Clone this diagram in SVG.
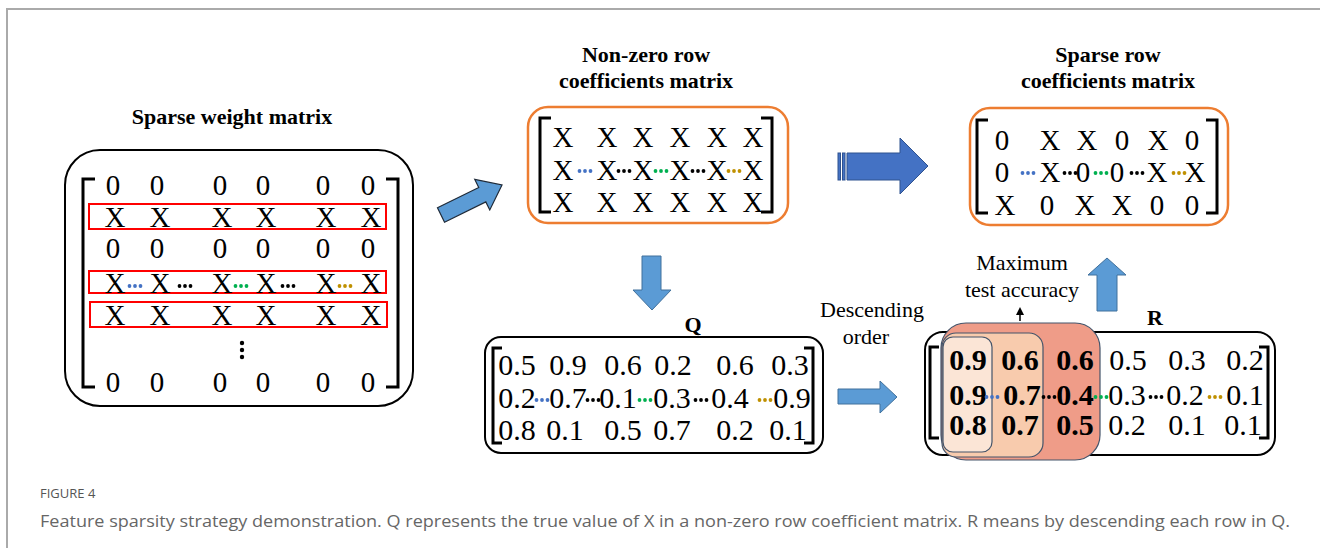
<svg xmlns="http://www.w3.org/2000/svg" width="1320" height="548" viewBox="0 0 1320 548">
  <style>
    .title { font-family: "Liberation Serif", "Times New Roman", serif; font-weight: bold; font-size: 22px; fill: #000; text-anchor: middle; }
    .lbl { font-family: "Liberation Serif", "Times New Roman", serif; font-size: 22px; fill: #000; text-anchor: middle; }
    .m { font-family: "Liberation Serif", "Times New Roman", serif; font-size: 29px; fill: #000; text-anchor: middle; }
    .d { font-family: "Liberation Serif", "Times New Roman", serif; font-size: 30px; fill: #000; text-anchor: middle; }
    .b { font-weight: bold; }
    .box { fill: #fff; stroke: #000; stroke-width: 2; }
    .obox { fill: #fff; stroke: #ed7d31; stroke-width: 2.5; }
    .brk { fill: none; stroke: #000; stroke-width: 3; }
    .red { fill: none; stroke: #ff0000; stroke-width: 2; }
    .arrow { fill: #5b9bd5; stroke: #41719c; stroke-width: 1; }
    .arrow-dark { fill: #5b9bd5; stroke: #1f2a38; stroke-width: 1.2; }
    .arrow2 { fill: #4472c4; stroke: #2f528f; stroke-width: 1; }
    .cap { font-family: "Open Sans", "Liberation Sans", sans-serif; fill: #666; }
    .caphead { font-family: "Open Sans", "Liberation Sans", sans-serif; fill: #555; }
    .blue { fill: #4472c4; } .blk { fill: #000; } .grn { fill: #00b050; } .gld { fill: #bf9000; }
  </style>
  <defs>
    <!-- three-dot ellipsis centred on the origin -->
    <g id="dots"><circle cx="-5.5" cy="0" r="1.9"/><circle cx="0" cy="0" r="1.9"/><circle cx="5.5" cy="0" r="1.9"/></g>
    <marker id="tip" markerWidth="8" markerHeight="8" refX="4" refY="4" orient="auto" markerUnits="userSpaceOnUse">
      <path d="M0,0 L8,4 L0,8 Z" fill="#000"/>
    </marker>
  </defs>

  <rect width="1320" height="548" fill="#fff"/>
  <!-- page frame -->
  <path d="M7,548 V9 H1320" fill="none" stroke="#aaa" stroke-width="2"/>

  <!-- sparse weight matrix -->
  <g id="sparse-weight">
    <text class="title" x="232" y="124">Sparse weight matrix</text>
    <rect class="box" x="65" y="150" width="348" height="256" rx="35"/>
    <path class="brk" d="M95,179 H83 V387 H95"/>
    <path class="brk" d="M386,179 H398 V387 H386"/>
    <rect class="red" x="89" y="204" width="297" height="25"/>
    <rect class="red" x="89" y="271" width="297" height="22"/>
    <rect class="red" x="90" y="302" width="297" height="25"/>
    <g class="m">
      <text x="113" y="195">0</text><text x="157" y="195">0</text><text x="220" y="195">0</text><text x="263" y="195">0</text><text x="323" y="195">0</text><text x="368" y="195">0</text>
      <text x="115" y="227">X</text><text x="160" y="227">X</text><text x="222" y="227">X</text><text x="266" y="227">X</text><text x="326" y="227">X</text><text x="371" y="227">X</text>
      <text x="113" y="258">0</text><text x="157" y="258">0</text><text x="220" y="258">0</text><text x="263" y="258">0</text><text x="323" y="258">0</text><text x="368" y="258">0</text>
      <text x="115" y="293">X</text><text x="160" y="293">X</text><text x="222" y="293">X</text><text x="266" y="293">X</text><text x="326" y="293">X</text><text x="371" y="293">X</text>
      <text x="115" y="325">X</text><text x="160" y="325">X</text><text x="222" y="325">X</text><text x="266" y="325">X</text><text x="326" y="325">X</text><text x="371" y="325">X</text>
      <text x="113" y="392">0</text><text x="157" y="392">0</text><text x="220" y="392">0</text><text x="263" y="392">0</text><text x="323" y="392">0</text><text x="368" y="392">0</text>
    </g>
    <use href="#dots" x="135" y="286" class="blue"/>
    <use href="#dots" x="185" y="286" class="blk"/>
    <use href="#dots" x="241" y="286" class="grn"/>
    <use href="#dots" x="288" y="286" class="blk"/>
    <use href="#dots" x="345" y="286" class="gld"/>
    <g class="blk"><circle cx="242" cy="343" r="2.2"/><circle cx="242" cy="350" r="2.2"/><circle cx="242" cy="357" r="2.2"/></g>
  </g>

  <!-- non-zero row coefficients matrix -->
  <g id="nonzero">
    <text class="title" x="646" y="62">Non-zero row</text>
    <text class="title" x="646" y="88">coefficients matrix</text>
    <rect class="obox" x="528" y="107" width="260" height="116" rx="20"/>
    <path class="brk" d="M551,118 H540 V212 H551"/>
    <path class="brk" d="M761,118 H772 V212 H761"/>
    <g class="m">
      <text x="563" y="147">X</text><text x="607" y="147">X</text><text x="643" y="147">X</text><text x="680" y="147">X</text><text x="717" y="147">X</text><text x="753" y="147">X</text>
      <text x="563" y="180">X</text><text x="607" y="180">X</text><text x="643" y="180">X</text><text x="680" y="180">X</text><text x="717" y="180">X</text><text x="753" y="180">X</text>
      <text x="563" y="212">X</text><text x="607" y="212">X</text><text x="643" y="212">X</text><text x="680" y="212">X</text><text x="717" y="212">X</text><text x="753" y="212">X</text>
    </g>
    <use href="#dots" x="585" y="171" class="blue"/>
    <use href="#dots" x="624" y="171" class="blk"/>
    <use href="#dots" x="661" y="171" class="grn"/>
    <use href="#dots" x="698" y="171" class="blk"/>
    <use href="#dots" x="734" y="171" class="gld"/>
  </g>

  <!-- sparse row coefficients matrix -->
  <g id="sparse-row">
    <text class="title" x="1108" y="62">Sparse row</text>
    <text class="title" x="1108" y="88">coefficients matrix</text>
    <rect class="obox" x="970" y="108" width="258" height="117" rx="20"/>
    <path class="brk" d="M988,120 H977 V213 H988"/>
    <path class="brk" d="M1206,120 H1217 V213 H1206"/>
    <g class="m">
      <text x="1002" y="150">0</text><text x="1050" y="150">X</text><text x="1087" y="150">X</text><text x="1122" y="150">0</text><text x="1158" y="150">X</text><text x="1192" y="150">0</text>
      <text x="1002" y="182">0</text><text x="1050" y="182">X</text><text x="1083" y="182">0</text><text x="1117" y="182">0</text><text x="1157" y="182">X</text><text x="1195" y="182">X</text>
      <text x="1005" y="215">X</text><text x="1047" y="215">0</text><text x="1085" y="215">X</text><text x="1122" y="215">X</text><text x="1157" y="215">0</text><text x="1192" y="215">0</text>
    </g>
    <use href="#dots" x="1028" y="173" class="blue"/>
    <use href="#dots" x="1070" y="173" class="blk"/>
    <use href="#dots" x="1101" y="173" class="grn"/>
    <use href="#dots" x="1137" y="173" class="blk"/>
    <use href="#dots" x="1179" y="173" class="gld"/>
  </g>

  <!-- Q matrix -->
  <g id="q-matrix">
    <text class="title" x="693" y="332">Q</text>
    <rect class="box" x="485" y="337" width="338" height="116" rx="16"/>
    <path class="brk" d="M502,348 H493 V443 H502"/>
    <path class="brk" d="M804,348 H813 V443 H804"/>
    <g class="d">
      <text x="517" y="375">0.5</text><text x="568" y="375">0.9</text><text x="623" y="375">0.6</text><text x="673" y="375">0.2</text><text x="735" y="375">0.6</text><text x="790" y="375">0.3</text>
      <text x="517" y="408">0.2</text><text x="568" y="408">0.7</text><text x="618" y="408">0.1</text><text x="672" y="408">0.3</text><text x="730" y="408">0.4</text><text x="792" y="408">0.9</text>
      <text x="517" y="440">0.8</text><text x="565" y="440">0.1</text><text x="623" y="440">0.5</text><text x="672" y="440">0.7</text><text x="735" y="440">0.2</text><text x="788" y="440">0.1</text>
    </g>
    <use href="#dots" x="542" y="400" class="blue"/>
    <use href="#dots" x="593" y="400" class="blk"/>
    <use href="#dots" x="645" y="400" class="grn"/>
    <use href="#dots" x="701" y="400" class="blk"/>
    <use href="#dots" x="765" y="400" class="gld"/>
  </g>

  <!-- R matrix with selected columns -->
  <g id="r-matrix">
    <text class="title" x="1155" y="325">R</text>
    <rect class="box" x="925" y="332" width="350" height="123" rx="18"/>
    <rect x="941" y="323" width="159" height="137" rx="25" fill="#ef9c88" stroke="#44546a" stroke-width="1.2"/>
    <rect x="942" y="333" width="101" height="124" rx="14" fill="#f8cbad" stroke="#44546a" stroke-width="1.2"/>
    <rect x="943" y="337" width="49" height="115" rx="10" fill="#fbe5d6" stroke="#44546a" stroke-width="1.2"/>
    <path class="brk" d="M939,347 H930 V438 H939"/>
    <path class="brk" d="M1259,347 H1268 V438 H1259"/>
    <g class="d">
      <text class="b" x="968" y="370">0.9</text><text class="b" x="1020" y="370">0.6</text><text class="b" x="1075" y="370">0.6</text><text x="1128" y="370">0.5</text><text x="1187" y="370">0.3</text><text x="1245" y="370">0.2</text>
      <text class="b" x="968" y="405">0.9</text><text class="b" x="1022" y="405">0.7</text><text class="b" x="1075" y="405">0.4</text><text x="1127" y="405">0.3</text><text x="1185" y="405">0.2</text><text x="1245" y="405">0.1</text>
      <text class="b" x="968" y="435">0.8</text><text class="b" x="1020" y="435">0.7</text><text class="b" x="1075" y="435">0.5</text><text x="1127" y="435">0.2</text><text x="1187" y="435">0.1</text><text x="1243" y="435">0.1</text>
    </g>
    <use href="#dots" x="992" y="397" class="blue"/>
    <use href="#dots" x="1049" y="397" class="blk"/>
    <use href="#dots" x="1101" y="397" class="grn"/>
    <use href="#dots" x="1156" y="397" class="blk"/>
    <use href="#dots" x="1215" y="397" class="gld"/>
  </g>

  <!-- annotations -->
  <g id="descending-label">
    <text class="lbl" x="872" y="317">Descending</text>
    <text class="lbl" x="866" y="344">order</text>
  </g>
  <g id="max-label">
    <text class="lbl" x="1022" y="270">Maximum</text>
    <text class="lbl" x="1022" y="297">test accuracy</text>
  </g>

  <!-- connectors -->
  <g id="connectors">
    <path class="arrow-dark" d="M0,-8 L46,-8 L46,-17 L68,0 L46,17 L46,8 L0,8 Z" transform="translate(441,215) rotate(-26.2)"/>
    <g id="striped-arrow">
      <rect class="arrow2" x="838" y="153" width="2.5" height="27"/>
      <rect class="arrow2" x="842.5" y="153" width="2.5" height="27"/>
      <path class="arrow2" d="M847,153 H900 V138 L928,166 L900,194 V180 H847 Z"/>
    </g>
    <path class="arrow" d="M642,256 H661 V290 H671 L652,310 L633,290 H642 Z"/>
    <path class="arrow" d="M838,389 H880 V381 L897,397 L880,413 V404 H838 Z"/>
    <path class="arrow" d="M1097,311 V275 H1088 L1107,258 L1126,275 H1117 V311 Z"/>
    <line x1="1020" y1="321" x2="1020" y2="311" stroke="#000" stroke-width="1.5" marker-end="url(#tip)"/>
  </g>

  <!-- caption -->
  <g id="caption">
    <text class="caphead" x="40" y="498" font-size="13">FIGURE 4</text>
    <text class="cap" x="40" y="527" font-size="17" textLength="1250" lengthAdjust="spacingAndGlyphs">Feature sparsity strategy demonstration. Q represents the true value of X in a non-zero row coefficient matrix. R means by descending each row in Q.</text>
  </g>
</svg>
